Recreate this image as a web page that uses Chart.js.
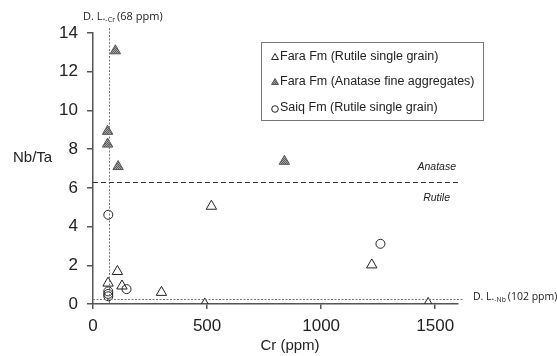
<!DOCTYPE html>
<html>
<head>
<meta charset="utf-8">
<script src="https://cdn.jsdelivr.net/npm/chart.js@4"></script>
<style>
  html, body { margin: 0; padding: 0; background: #fff; }
  #wrap { width: 557px; height: 356px; position: relative; }
</style>
</head>
<body>
<div id="wrap"><canvas id="myChart"></canvas></div>
<script>
// data
const seriesNames = ["Fara Fm (Rutile single grain)", "Fara Fm (Anatase fine aggregates)", "Saiq Fm (Rutile single grain)"];

const rutileCr = [519, 107, 66, 127, 300, 490, 1222, 1469];
const rutileNbTa = [5.05, 1.68, 1.08, 0.93, 0.6, 0.0, 2.02, 0.03];

const anataseCr = [98, 64, 64, 110, 839];
const anataseNbTa = [13.08, 8.92, 8.26, 7.1, 7.37];

const saiqCr = [67, 67, 67, 67, 147, 1260];
const saiqNbTa = [4.61, 0.65, 0.52, 0.4, 0.77, 3.11];

const xTicks = [0, 500, 1000, 1500];
const yTicks = [0, 2, 4, 6, 8, 10, 12, 14];

const dlCr = 68;       // detection limit Cr
const dlNb = 0.28;     // detection limit Nb line on Nb/Ta
const boundary = 6.3;  // anatase / rutile

const toPoints = (xs, ys) => xs.map((x, i) => ({ x: x, y: ys[i] }));

// dotted grey fill for the anatase markers
const makePattern = () => {
    const c = document.createElement("canvas");
    c.width = 2; c.height = 2;
    const g = c.getContext("2d");
    g.fillStyle = "#a8a8a8"; g.fillRect(0, 0, 2, 2);
    g.fillStyle = "#5a5a5a"; g.fillRect(0, 0, 1, 1); g.fillRect(1, 1, 1, 1);
    return g.createPattern(c, "repeat");
};
const hatch = makePattern();

const axisColor = "#555";
const textColor = "#222";
const arial = "'Liberation Sans', Arial, sans-serif";

const extras = {
    id: "extras",
    afterDatasetsDraw(chart) {
        const ctx = chart.ctx;
        const xs = chart.scales.x, ys = chart.scales.y;
        const area = chart.chartArea;
        ctx.save();

        // vertical detection limit
        const xv = Math.round(xs.getPixelForValue(dlCr)) + 0.5;
        ctx.strokeStyle = "#777";
        ctx.lineWidth = 1;
        ctx.setLineDash([2, 1.5]);
        ctx.beginPath(); ctx.moveTo(xv, 28); ctx.lineTo(xv, area.bottom); ctx.stroke();

        // horizontal detection limit
        const yh = Math.round(ys.getPixelForValue(dlNb)) + 0.5;
        ctx.beginPath(); ctx.moveTo(area.left, yh); ctx.lineTo(463, yh); ctx.stroke();

        // anatase / rutile boundary
        const yb = Math.round(ys.getPixelForValue(boundary)) + 0.5;
        ctx.strokeStyle = "#333";
        ctx.setLineDash([5, 3]);
        ctx.beginPath(); ctx.moveTo(area.left, yb); ctx.lineTo(area.right, yb); ctx.stroke();
        ctx.setLineDash([]);

        ctx.fillStyle = textColor;
        ctx.textBaseline = "middle";
        ctx.font = "italic 10.5px " + arial;
        ctx.textAlign = "right";
        ctx.fillText("Anatase", 456, yb - 15);
        ctx.fillText("Rutile", 450, yb + 16);

        // axis titles
        ctx.font = "15px " + arial;
        ctx.textAlign = "left";
        ctx.fillText("Nb/Ta", 13, 158);
        ctx.textAlign = "center";
        ctx.fillText("Cr (ppm)", 290, 346);

        // detection limit labels
        const lbl = (x, y, size, main, sub, rest) => {
            ctx.textAlign = "left";
            ctx.font = size + "px 'Open Sans', sans-serif";
            ctx.fillText(main, x, y);
            let w = ctx.measureText(main).width;
            ctx.font = (size * 0.65) + "px 'Open Sans', sans-serif";
            ctx.fillText(sub, x + w, y + 3);
            w += ctx.measureText(sub).width + 2;
            ctx.font = size + "px 'Open Sans', sans-serif";
            ctx.fillText(rest, x + w, y);
        };
        lbl(83, 17, 11, "D. L.", "-Cr", "(68 ppm)");
        lbl(473, 297, 10.5, "D. L.", "-Nb", "(102 ppm)");

        // legend box
        ctx.strokeStyle = "#777";
        ctx.lineWidth = 1;
        ctx.strokeRect(261.5, 42.5, 222, 78);
        const rows = [56.5, 81.5, 108];
        chart.data.datasets.forEach((ds, i) => {
            ctx.fillStyle = ds.backgroundColor;
            ctx.strokeStyle = ds.borderColor;
            ctx.lineWidth = 1;
            Chart.helpers.drawPoint(ctx, {
                pointStyle: ds.pointStyle,
                radius: ds.pointStyle === "circle" ? 3.3 : 4,
                borderWidth: 1
            }, 275, rows[i] + 1);
            ctx.fillStyle = textColor;
            ctx.font = "12.5px " + arial;
            ctx.textAlign = "left";
            ctx.fillText(seriesNames[i], 280, rows[i]);
        });

        ctx.restore();
    }
};

const myChart = new Chart("myChart", {
    type: "scatter",
    data: {
        datasets: [{
            label: seriesNames[0],
            data: toPoints(rutileCr, rutileNbTa),
            pointStyle: "triangle",
            pointRadius: 6,
            borderWidth: 1,
            borderColor: "#222",
            backgroundColor: "rgba(255,255,255,0)"
        }, {
            label: seriesNames[1],
            data: toPoints(anataseCr, anataseNbTa),
            pointStyle: "triangle",
            pointRadius: 6,
            borderWidth: 1,
            borderColor: "#555",
            backgroundColor: hatch
        }, {
            label: seriesNames[2],
            data: toPoints(saiqCr, saiqNbTa),
            pointStyle: "circle",
            pointRadius: 4.5,
            borderWidth: 1,
            borderColor: "#222",
            backgroundColor: "rgba(255,255,255,0)"
        }]
    },
    options: {
        responsive: true,
        maintainAspectRatio: false,
        animation: false,
        events: [],
        layout: { padding: { top: 33, right: 99, left: 0, bottom: 0 } },
        plugins: {
            legend: { display: false },
            tooltip: { enabled: false }
        },
        scales: {
            x: {
                type: "linear",
                min: 0,
                max: 1600,
                afterBuildTicks: (s) => { s.ticks = xTicks.map(v => ({ value: v })); },
                afterFit: (s) => { s.height = 52; },
                grid: { display: true, drawOnChartArea: false, drawTicks: true, tickLength: 5, color: axisColor, lineWidth: 1.5 },
                border: { display: true, color: axisColor, width: 1.5 },
                ticks: { color: textColor, padding: 7, font: { size: 17, family: arial }, maxRotation: 0, callback: (v) => String(v) },
                title: { display: false }
            },
            y: {
                type: "linear",
                min: 0,
                max: 14,
                afterBuildTicks: (s) => { s.ticks = yTicks.map(v => ({ value: v })); },
                afterFit: (s) => { s.width = 93; },
                grid: { display: true, drawOnChartArea: false, drawTicks: true, tickLength: 6, color: axisColor, lineWidth: 1.5 },
                border: { display: true, color: axisColor, width: 1.5 },
                ticks: { color: textColor, padding: 9, font: { size: 17, family: arial }, callback: (v) => String(v) },
                title: { display: false }
            }
        }
    },
    plugins: [extras]
});
</script>
</body>
</html>
